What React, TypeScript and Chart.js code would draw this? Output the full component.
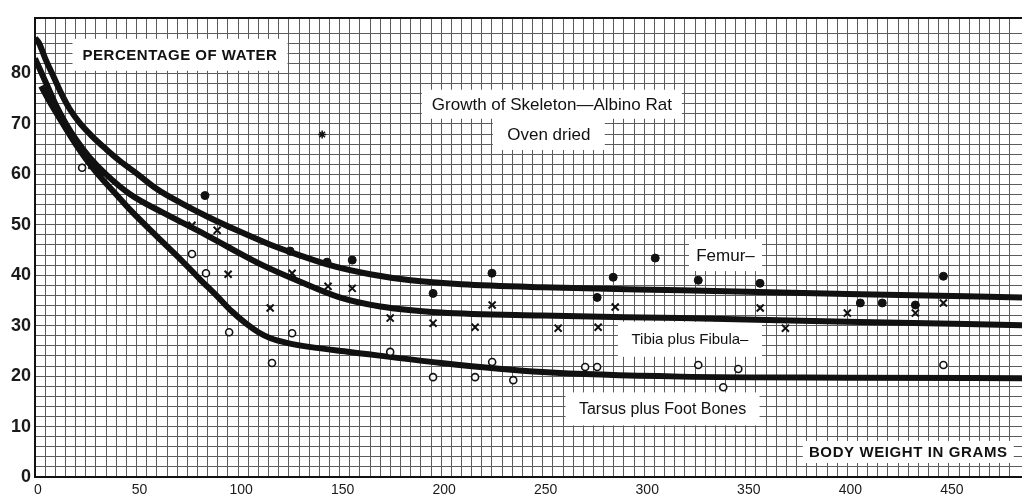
import React, { useEffect, useRef } from "react";
import { Chart, registerables } from "chart.js";

Chart.register(...registerables);

// ---- smoothed curves (body weight g -> % water) ----
const femurCurveG = [0, 2, 5, 9, 13, 17, 22, 28, 35, 42, 50, 60, 72, 85, 100, 115, 130, 147, 165, 185, 210, 250, 318, 400, 486];
const femurCurveW = [87, 86, 83, 79.5, 76, 73, 70.2, 67.6, 65, 62.6, 60.2, 57.1, 54.3, 51.6, 48.8, 46.2, 44, 41.8, 40.2, 39, 38.2, 37.6, 37, 36.3, 35.6];

const tibiaCurveG = [0, 3, 6, 10, 15, 20, 27, 35, 47, 63, 80, 96, 112, 130, 150, 170, 200, 250, 318, 400, 486];
const tibiaCurveW = [83, 80.3, 77.6, 74, 70.2, 67, 63.3, 60, 56, 52.4, 48.9, 45.4, 42, 38.8, 35.6, 33.8, 32.6, 32, 31.5, 30.8, 30.1];

const tarsusCurveG = [3, 6, 10, 15, 20, 25, 30, 40, 47, 60, 72, 81, 90, 97, 104, 110, 116, 124, 135, 155, 200, 250, 318, 400, 486];
const tarsusCurveW = [77.5, 75.3, 72.5, 69.2, 66, 63.1, 60.5, 56, 52.9, 47.7, 43, 39.3, 35.7, 32.8, 30.4, 28.7, 27.5, 26.6, 25.8, 24.8, 22.6, 20.8, 19.9, 19.7, 19.6];

// ---- observations ----
const femurG = [83.7, 125.6, 143.8, 156.2, 196, 225, 276.8, 284.7, 305.4, 326.6, 357, 406.4, 417.2, 433.5, 447.3];
const femurW = [55.8, 44.8, 42.6, 43, 36.4, 40.4, 35.6, 39.6, 43.4, 39, 38.4, 34.5, 34.5, 34.1, 39.8];

const tibiaG = [28, 32, 77.3, 89.7, 95.1, 115.8, 126.6, 144.3, 156.2, 174.9, 196, 216.7, 225.1, 257.6, 277.3, 285.7, 357.1, 369.5, 400, 433.5, 447.3];
const tibiaW = [61.8, 60.3, 49.9, 48.9, 40.2, 33.5, 40.4, 37.8, 37.4, 31.5, 30.5, 29.7, 34.1, 29.5, 29.7, 33.7, 33.5, 29.5, 32.5, 32.5, 34.5];

const tarsusG = [23.2, 77.3, 84.2, 95.6, 116.7, 126.6, 174.9, 196, 216.7, 225.1, 235.5, 270.9, 276.8, 326.6, 338.9, 346.3, 447.3];
const tarsusW = [61.3, 44.2, 40.4, 28.7, 22.6, 28.5, 24.8, 19.8, 19.8, 22.8, 19.2, 21.8, 21.8, 22.2, 17.8, 21.4, 22.2];

const strayG = [141.4];
const strayW = [67.9];

// ---- axis ----
const xMin = 0;
const xMax = 486;
const xStep = 5;
const xLabelEvery = 50;
const yMin = 0;
const yMax = 91;
const yStep = 2;
const yLabelEvery = 10;

// ---- notes on the paper ----
const noteTexts = [
  "PERCENTAGE OF WATER",
  "Growth of Skeleton\u2014Albino Rat",
  "Oven dried",
  "Femur\u2013",
  "Tibia plus Fibula\u2013",
  "Tarsus plus Foot Bones",
  "BODY WEIGHT IN GRAMS",
];
const noteG = [71.4, 254.5, 253, 340, 322.5, 309, 430];
const noteW = [83.7, 73.9, 68, 44, 27.3, 13.5, 4.96];
const noteBoxW = [215, 260, 112, 73, 144, 194, 211];
const noteBoxH = [32, 29, 32, 32, 35, 33, 22];
const noteFont = [
  "bold 15px 'Liberation Sans'",
  "17px 'Liberation Sans'",
  "17px 'Liberation Sans'",
  "17px 'Liberation Sans'",
  "15px 'Liberation Sans'",
  "16px 'Liberation Sans'",
  "bold 15px 'Liberation Sans'",
];
const noteSpacing = ["0.5px", "0px", "0px", "0px", "0px", "0px", "0.6px"];

const pts = (gs: number[], ws: number[]) => gs.map((g, i) => ({ x: g, y: ws[i] }));

const INK = "#111111";
const GRID = "#5c5c5c";
const PAGE_W = 1022;

const notesPlugin = {
  id: "paperNotes",
  beforeDatasetsDraw(chart: any) {
    const { ctx, chartArea, scales } = chart;
    const xs = scales.x;
    const ys = scales.y;
    ctx.save();
    ctx.strokeStyle = INK;
    ctx.lineWidth = 2;
    ctx.beginPath();
    ctx.moveTo(chartArea.left, chartArea.top);
    ctx.lineTo(chartArea.right, chartArea.top);
    ctx.stroke();
    for (let i = 0; i < noteTexts.length; i++) {
      const cx = xs.getPixelForValue(noteG[i]);
      const cy = ys.getPixelForValue(noteW[i]);
      const w = noteBoxW[i];
      const h = noteBoxH[i];
      ctx.fillStyle = "#ffffff";
      ctx.fillRect(cx - w / 2, cy - h / 2, w, h);
      ctx.font = noteFont[i];
      (ctx as any).letterSpacing = noteSpacing[i];
      ctx.fillStyle = INK;
      ctx.textAlign = "center";
      ctx.textBaseline = "middle";
      ctx.fillText(noteTexts[i], cx, cy + 1);
    }
    ctx.restore();
  },
};

export default function App() {
  const ref = useRef<HTMLCanvasElement | null>(null);
  const boxRef = useRef<HTMLDivElement | null>(null);

  useEffect(() => {
    document.body.style.margin = "0";
    document.body.style.overflow = "hidden";
    document.documentElement.style.overflow = "hidden";
    if (!ref.current) return;
    Chart.defaults.font.family = "'Liberation Sans', Arial, sans-serif";
    const curve = (gs: number[], ws: number[], label: string) => ({
      label,
      data: pts(gs, ws),
      showLine: true,
      borderColor: INK,
      borderWidth: 6,
      pointRadius: 0,
      pointHoverRadius: 0,
      cubicInterpolationMode: "monotone" as const,
      fill: false,
    });
    const chart = new Chart(ref.current, {
      type: "scatter",
      data: {
        datasets: [
          {
            label: "Femur",
            data: pts(femurG, femurW),
            pointStyle: "circle",
            pointRadius: 4,
            backgroundColor: INK,
            borderColor: INK,
            borderWidth: 1,
          },
          {
            label: "Tibia plus Fibula",
            data: pts(tibiaG, tibiaW),
            pointStyle: "crossRot",
            pointRadius: 5,
            borderColor: INK,
            borderWidth: 2,
          },
          {
            label: "Tarsus plus Foot Bones",
            data: pts(tarsusG, tarsusW),
            pointStyle: "circle",
            pointRadius: 3.5,
            backgroundColor: "rgba(255,255,255,0.9)",
            borderColor: INK,
            borderWidth: 1.6,
          },
          {
            label: "mark",
            data: pts(strayG, strayW),
            pointStyle: "star",
            pointRadius: 4,
            borderColor: INK,
            borderWidth: 1.5,
          },
          curve(femurCurveG, femurCurveW, "Femur curve"),
          curve(tibiaCurveG, tibiaCurveW, "Tibia curve"),
          curve(tarsusCurveG, tarsusCurveW, "Tarsus curve"),
        ],
      },
      options: {
        animation: false,
        responsive: true,
        maintainAspectRatio: false,
        layout: { padding: { top: 18, right: 0, left: 0, bottom: 0 } },
        plugins: {
          legend: { display: false },
          tooltip: { enabled: false },
          title: { display: false },
        },
        scales: {
          x: {
            type: "linear",
            min: xMin,
            max: xMax,
            afterFit: (s: any) => {
              s.height = 17;
            },
            ticks: {
              stepSize: xStep,
              autoSkip: false,
              maxRotation: 0,
              labelOffset: 3,
              padding: 0,
              color: "#1a1a1a",
              font: { size: 14 },
              callback: (v: any) => (Number(v) % xLabelEvery === 0 && Number(v) <= 450 ? String(v) : ""),
            },
            grid: { color: GRID, lineWidth: 1, drawTicks: true, tickLength: 5, tickColor: "rgba(0,0,0,0)" },
            border: { display: true, color: INK, width: 2 },
          },
          y: {
            type: "linear",
            min: yMin,
            max: yMax,
            afterFit: (s: any) => {
              s.width = 35;
            },
            ticks: {
              stepSize: yStep,
              autoSkip: false,
              padding: 4,
              color: "#1a1a1a",
              font: { size: 18, weight: "bold" },
              callback: (v: any) => (Number(v) % yLabelEvery === 0 ? String(v) : ""),
            },
            grid: { color: GRID, lineWidth: 1, drawTicks: false },
            border: { display: true, color: INK, width: 2 },
          },
        },
      },
      plugins: [notesPlugin],
    });
    // let the plotting area run off the right edge of the page, like the cropped scan
    const extra = PAGE_W - chart.chartArea.right;
    if (boxRef.current && extra > 0.5) {
      boxRef.current.style.width = `${PAGE_W + extra}px`;
      chart.resize();
    }
    return () => chart.destroy();
  }, []);

  return (
    <div style={{ position: "fixed", left: 0, top: 0, width: PAGE_W, height: 494, overflow: "hidden", background: "#ffffff" }}>
      <div ref={boxRef} style={{ position: "relative", width: PAGE_W, height: 494 }}>
        <canvas ref={ref} style={{ display: "block" }} />
      </div>
    </div>
  );
}
